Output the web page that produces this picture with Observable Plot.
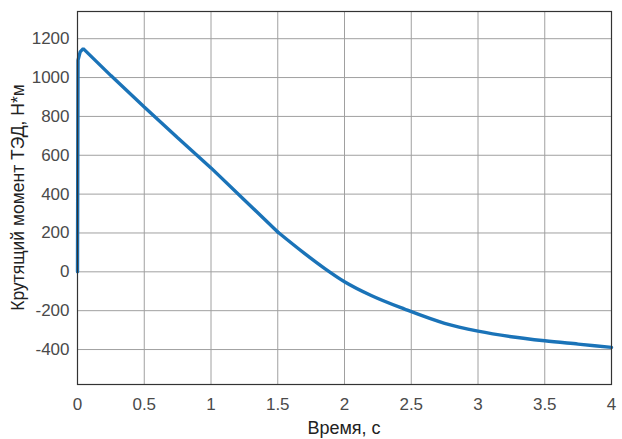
<!DOCTYPE html>
<html>
<head>
<meta charset="utf-8">
<script src="https://cdn.jsdelivr.net/npm/d3@7"></script>
<script src="https://cdn.jsdelivr.net/npm/@observablehq/plot@0.6"></script>
<style>
  html, body { margin: 0; padding: 0; background: #fff; }
  svg { display: block; }
</style>
</head>
<body>
<div id="chart"></div>
<script>
const timeS = [0, 0.004, 0.02, 0.043, 0.25, 0.5, 0.75, 1.0, 1.25, 1.5, 1.7, 1.85, 2.0, 2.2, 2.45, 2.75, 3.0, 3.25, 3.5, 3.75, 4.0];
const torque = [0, 1090, 1132, 1149, 1010, 849, 690, 535, 370, 205, 95, 18, -51, -122, -192, -265, -305, -334, -355, -372, -389];
const xTicks = [0, 0.5, 1, 1.5, 2, 2.5, 3, 3.5, 4];
const yTicks = [-400, -200, 0, 200, 400, 600, 800, 1000, 1200];
const xLabel = "Время, с";
const yLabel = "Крутящий момент ТЭД, Н*м";

const data = timeS.map((t, i) => ({t, v: torque[i]}));
const fmt = d => String(d);
const lineStyle = {x: "t", y: "v", stroke: "#1a73b8", strokeWidth: 3.4};

const chart = Plot.plot({
  width: 622,
  height: 439,
  marginLeft: 77,
  marginRight: 11,
  marginTop: 11,
  marginBottom: 55,
  style: {fontFamily: "'Liberation Sans', Arial, sans-serif", fontSize: "17px", color: "#4a4a4a", background: "#fff"},
  x: {domain: [0, 4]},
  y: {domain: [-580, 1340]},
  marks: [
    Plot.gridX(xTicks, {stroke: "#a0a0a0", strokeOpacity: 1}),
    Plot.gridY(yTicks, {stroke: "#a0a0a0", strokeOpacity: 1}),
    Plot.axisX(xTicks, {tickSize: 0, tickPadding: 13, fontSize: 17, fill: "#4a4a4a", label: null, tickFormat: fmt}),
    Plot.axisY(yTicks, {tickSize: 0, tickPadding: 8, fontSize: 17, fill: "#4a4a4a", label: null, tickFormat: fmt}),
    Plot.line(data.filter(d => d.t <= 1.5), {...lineStyle, curve: "linear", strokeLinejoin: "miter"}),
    Plot.line(data.filter(d => d.t >= 1.5), {...lineStyle, curve: "monotone-x"}),
    Plot.frame({stroke: "#333", strokeWidth: 1.2})
  ]
});

const svg = d3.select(chart);
svg.append("text")
  .attr("x", (77 + 611) / 2).attr("y", 434)
  .attr("text-anchor", "middle")
  .attr("font-size", 18).attr("fill", "#222")
  .text(xLabel);
svg.append("text")
  .attr("transform", `translate(19, ${(11 + 384) / 2}) rotate(-90)`)
  .attr("text-anchor", "middle")
  .attr("dominant-baseline", "middle")
  .attr("font-size", 17.5).attr("fill", "#222")
  .text(yLabel);

document.getElementById("chart").appendChild(chart);
</script>
</body>
</html>
